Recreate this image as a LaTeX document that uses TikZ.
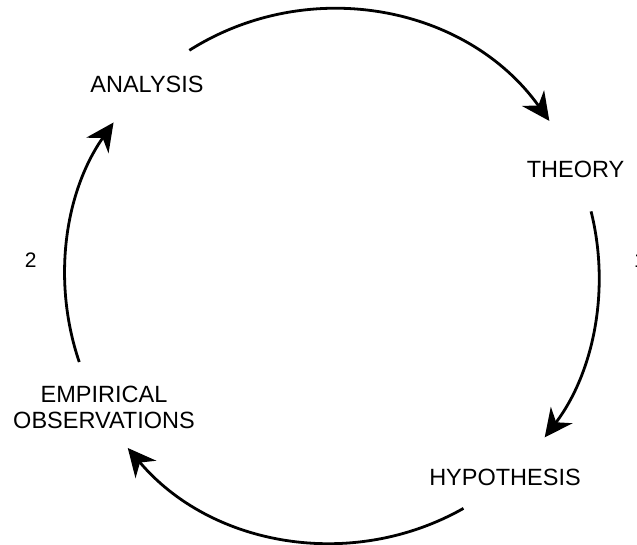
\documentclass[tikz,border=0pt]{standalone}
\usepackage{fontspec}
\setmainfont{Liberation Sans}
\usetikzlibrary{arrows.meta}
\tikzset{
  lbl/.style={inner sep=0pt, outer sep=0pt, font=\fontsize{23.5}{26}\selectfont, text=black},
  numlbl/.style={inner sep=0pt, outer sep=0pt, font=\fontsize{21}{24}\selectfont, text=black},
  cyc/.style={line width=2.8pt, draw=black, -{Stealth[length=28pt,width=27pt,inset=9pt]}}
}
\begin{document}
\begin{tikzpicture}[x=1pt,y=1pt]
\useasboundingbox (0,0) rectangle (637,544);
\fill[white] (0,0) rectangle (637,544);
\coordinate (c) at (332,268);
\node[lbl, anchor=base] (analysis) at (147,451.7) {ANALYSIS};
\node[lbl, anchor=base] (theory) at (575.5,366) {THEORY};
\node[lbl, anchor=base] (hypothesis) at (505,59) {HYPOTHESIS};
\node[lbl, anchor=base, align=center] (empirical) at (104,116) {EMPIRICAL\\OBSERVATIONS};
\node[numlbl, anchor=base] (two) at (30.8,276.3) {2};
\node[numlbl, anchor=base west] (one) at (634,276.3) {1};
\coordinate (a1s) at ([shift={(122.3:267pt)}]c);
\coordinate (a2s) at ([shift={(14:267pt)}]c);
\coordinate (a3s) at ([shift={(-60.5:267pt)}]c);
\coordinate (a4s) at ([shift={(198.8:267pt)}]c);
\draw[cyc] (a1s) arc[start angle=122.3, end angle=35.5, radius=267pt];
\draw[cyc] (a2s) arc[start angle=14, end angle=-37.2, radius=267pt];
\draw[cyc] (a3s) arc[start angle=-60.5, end angle=-139.9, radius=267pt];
\draw[cyc] (a4s) arc[start angle=198.8, end angle=144.9, radius=267pt];
\end{tikzpicture}
\end{document}
